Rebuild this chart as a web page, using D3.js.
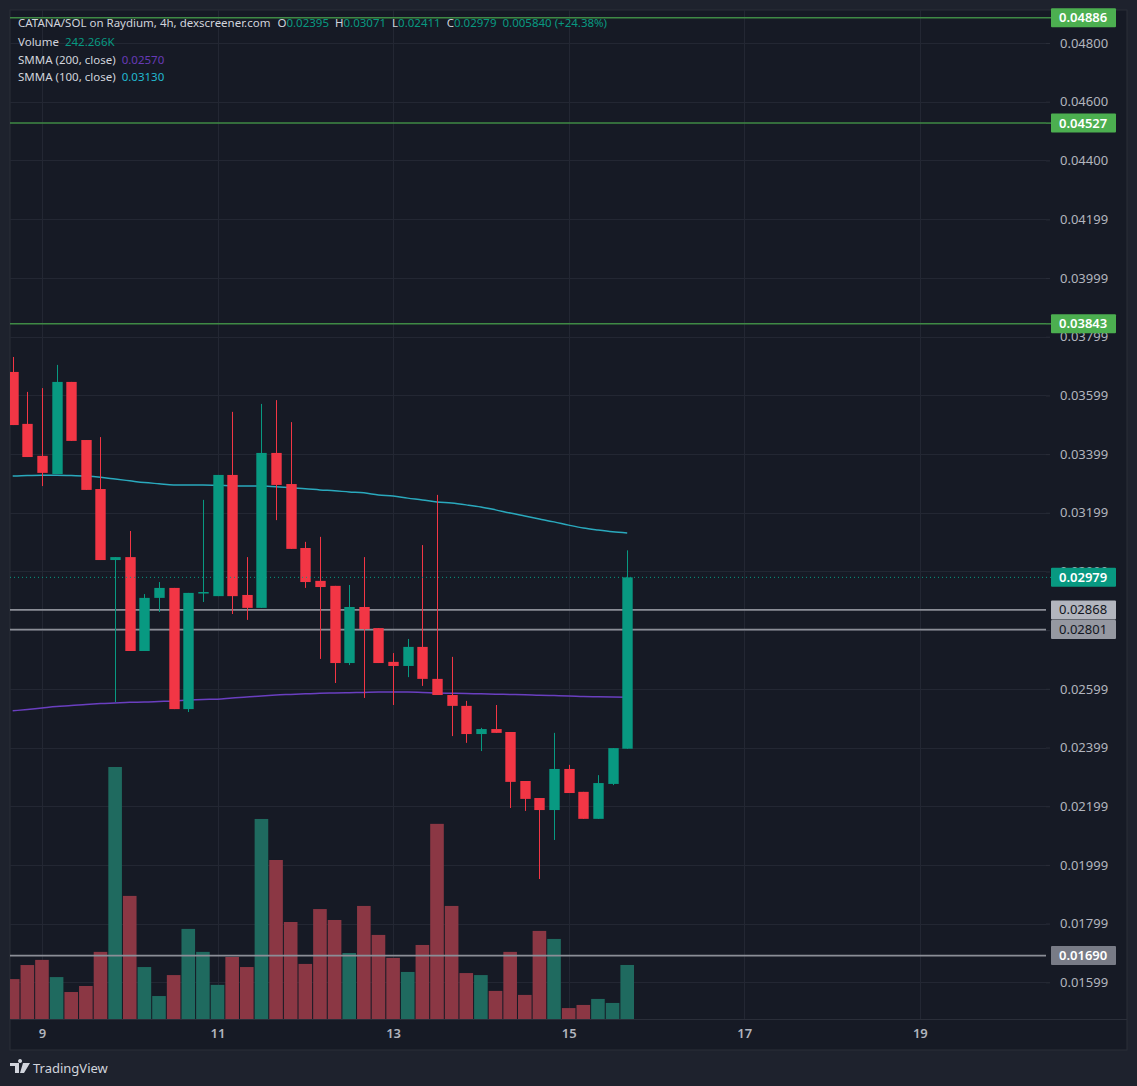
<!DOCTYPE html>
<html>
<head>
<meta charset="utf-8">
<script src="https://cdn.jsdelivr.net/npm/d3@7"></script>
<style>
html,body{margin:0;padding:0;background:#1e222d;}
svg{display:block;}
</style>
</head>
<body>
<svg id="chart" width="1137" height="1086"></svg>
<script>
// ---------- DATA ----------
const opens  = [0.03679,0.03502,0.03393,0.03331,0.03645,0.03447,0.03280,0.03038,0.03048,0.02728,0.02909,0.02943,0.02530,0.02926,0.02915,0.03328,0.02919,0.02875,0.03403,0.03297,0.03079,0.02967,0.02950,0.02687,0.02878,0.02806,0.02691,0.02677,0.02742,0.02633,0.02578,0.02541,0.02445,0.02462,0.02452,0.02285,0.02227,0.02186,0.02326,0.02248,0.02156,0.02275,0.02395];
const highs  = [0.03730,0.03611,0.03624,0.03703,0.03645,0.03447,0.03457,0.03048,0.03137,0.02922,0.02963,0.02943,0.02926,0.03243,0.03328,0.03543,0.03048,0.03570,0.03583,0.03508,0.03100,0.03117,0.02950,0.02953,0.03048,0.02806,0.02721,0.02769,0.03089,0.03260,0.02708,0.02558,0.02466,0.02544,0.02452,0.02285,0.02227,0.02449,0.02340,0.02248,0.02305,0.02397,0.03071];
const lows   = [0.03498,0.03389,0.03290,0.03331,0.03444,0.03277,0.03038,0.02554,0.02728,0.02728,0.02861,0.02530,0.02520,0.02895,0.02915,0.02854,0.02834,0.02875,0.03174,0.03076,0.02943,0.02701,0.02619,0.02680,0.02568,0.02687,0.02544,0.02639,0.02609,0.02578,0.02438,0.02415,0.02387,0.02449,0.02193,0.02183,0.01951,0.02084,0.02244,0.02156,0.02156,0.02271,0.02395];
const closes = [0.03498,0.03389,0.03335,0.03645,0.03444,0.03277,0.03038,0.03048,0.02728,0.02909,0.02943,0.02530,0.02926,0.02929,0.03328,0.02915,0.02875,0.03403,0.03294,0.03076,0.02963,0.02946,0.02687,0.02878,0.02803,0.02687,0.02677,0.02742,0.02633,0.02578,0.02541,0.02445,0.02462,0.02449,0.02282,0.02224,0.02186,0.02326,0.02244,0.02156,0.02278,0.02397,0.02979];
// volume in thousands
const volumes = [179,242,265,188,121,148,301,1130,552,233,103,197,404,301,153,278,233,897,713,435,247,493,444,296,507,377,274,211,332,875,507,206,197,126,301,108,395,359,49,63,90,72,242.266];
const smma100 = [0.03324,0.03326,0.03327,0.03327,0.03326,0.03324,0.03320,0.03314,0.03308,0.03302,0.03298,0.03294,0.03294,0.03294,0.03293,0.03291,0.03290,0.03290,0.03288,0.03284,0.03281,0.03277,0.03274,0.03270,0.03267,0.03260,0.03256,0.03249,0.03243,0.03236,0.03232,0.03226,0.03219,0.03209,0.03198,0.03188,0.03178,0.03168,0.03157,0.03147,0.03140,0.03134,0.03130];
const smma200 = [0.02524,0.02529,0.02534,0.02539,0.02542,0.02546,0.02549,0.02551,0.02553,0.02554,0.02556,0.02558,0.02561,0.02563,0.02564,0.02568,0.02571,0.02575,0.02578,0.02580,0.02582,0.02584,0.02585,0.02586,0.02587,0.02588,0.02588,0.02588,0.02587,0.02585,0.02584,0.02583,0.02582,0.02581,0.02580,0.02579,0.02577,0.02576,0.02575,0.02573,0.02572,0.02571,0.02570];
const greenLevels = [0.04886,0.04527,0.03843];
const greyLevels = [0.02868,0.02801,0.01690];
const lastPrice = 0.02979;
const priceTicks = [0.04800,0.04600,0.04400,0.04199,0.03999,0.03799,0.03599,0.03399,0.03199,0.02999,0.02799,0.02599,0.02399,0.02199,0.01999,0.01799,0.01599];
const dayLabels = ["9","11","13","15","17","19"];
const dayNumbers = [9,11,13,15,17,19];
const firstDayIndex = 2;   // candle index of day 9 00:00
const candlesPerDay = 6;   // 4h candles

// ---------- LAYOUT ----------
const W = 1137, H = 1086;
const pane = {x0: 10, y0: 10, x1: 1127, y1: 1050};
const plotRight = 1046;
const timeAxisTop = 1019;
const FONT = "'Noto Sans', 'Open Sans', sans-serif";

const svg = d3.select("#chart");
const x = d3.scaleLinear().domain([0, 42]).range([12.7, 627.2]);
const y = d3.scaleLinear().domain([0.016, 0.048]).range([982, 43]);
const yv = d3.scaleLinear().domain([0, 1130]).range([timeAxisTop, 767]);

const UP = "#089981", DOWN = "#f23645";
const UPV = "#1f6a5f", DOWNV = "#8b3744";

// pane background
svg.append("rect").attr("x",0).attr("y",0).attr("width",W).attr("height",H).attr("fill","#1e222d");
svg.append("rect").attr("x",pane.x0).attr("y",pane.y0).attr("width",pane.x1-pane.x0).attr("height",pane.y1-pane.y0)
  .attr("fill","#161a25").attr("stroke","#2a2e39").attr("stroke-width",1);

svg.append("defs").append("clipPath").attr("id","plotclip").append("rect")
  .attr("x",pane.x0).attr("y",pane.y0).attr("width",plotRight-pane.x0).attr("height",timeAxisTop-pane.y0);

// grid
const grid = svg.append("g").attr("clip-path","url(#plotclip)");
grid.selectAll("line.h").data(priceTicks).join("line")
  .attr("x1",pane.x0).attr("x2",plotRight).attr("y1",d=>Math.round(y(d))+0.5).attr("y2",d=>Math.round(y(d))+0.5)
  .attr("stroke","#232733").attr("stroke-width",1);
const dayIdx = dayNumbers.map(d => firstDayIndex + (d-9)*candlesPerDay);
grid.selectAll("line.v").data(dayIdx).join("line")
  .attr("y1",pane.y0).attr("y2",timeAxisTop).attr("x1",d=>Math.round(x(d))+0.5).attr("x2",d=>Math.round(x(d))+0.5)
  .attr("stroke","#232733").attr("stroke-width",1);

const plot = svg.append("g").attr("clip-path","url(#plotclip)");

// volume bars
const idx = d3.range(opens.length);
const vw = 13.6;
plot.selectAll("rect.vol").data(idx).join("rect")
  .attr("x", i => x(i)-vw/2).attr("width", vw)
  .attr("y", i => yv(volumes[i])).attr("height", i => timeAxisTop - yv(volumes[i]))
  .attr("fill", i => closes[i] >= opens[i] ? UPV : DOWNV);

// horizontal levels
plot.selectAll("line.gl").data(greenLevels).join("line")
  .attr("x1",pane.x0).attr("x2",1052).attr("y1",d=>y(d)).attr("y2",d=>y(d))
  .attr("stroke","#3f8a45").attr("stroke-width",1.5);
svg.selectAll("line.gl2").data(greenLevels).join("line")
  .attr("x1",plotRight).attr("x2",1052).attr("y1",d=>y(d)).attr("y2",d=>y(d))
  .attr("stroke","#3f8a45").attr("stroke-width",1.5);
plot.selectAll("line.grl").data(greyLevels).join("line")
  .attr("x1",pane.x0).attr("x2",plotRight).attr("y1",d=>y(d)).attr("y2",d=>y(d))
  .attr("stroke","#8b8e97").attr("stroke-width",1.8);

// SMMA lines
const lineGen = arr => d3.line().x(i=>x(i)).y(i=>y(arr[i])).curve(d3.curveMonotoneX)(idx);
plot.append("path").attr("d", lineGen(smma200)).attr("fill","none").attr("stroke","#6a3fc0").attr("stroke-width",1.5);
plot.append("path").attr("d", lineGen(smma100)).attr("fill","none").attr("stroke","#2aa9bd").attr("stroke-width",1.5);

// last price dotted
svg.append("line").attr("x1",pane.x0).attr("x2",1052).attr("y1",y(lastPrice)).attr("y2",y(lastPrice))
  .attr("stroke",UP).attr("stroke-width",1).attr("stroke-dasharray","1,3");

// candles
const bw = 10.4;
const candles = plot.selectAll("g.c").data(idx).join("g");
candles.append("line")
  .attr("x1", i => Math.round(x(i))+0.5).attr("x2", i => Math.round(x(i))+0.5)
  .attr("y1", i => y(highs[i])).attr("y2", i => y(lows[i]))
  .attr("stroke", i => closes[i] >= opens[i] ? UP : DOWN).attr("stroke-width",1);
candles.append("rect")
  .attr("x", i => Math.round(x(i))+0.5 - bw/2).attr("width", bw)
  .attr("y", i => y(Math.max(opens[i],closes[i])))
  .attr("height", i => Math.max(1.5, Math.abs(y(opens[i]) - y(closes[i]))))
  .attr("fill", i => closes[i] >= opens[i] ? UP : DOWN);

// time axis
svg.append("line").attr("x1",pane.x0).attr("x2",pane.x1).attr("y1",timeAxisTop+0.5).attr("y2",timeAxisTop+0.5)
  .attr("stroke","#2a2e39").attr("stroke-width",1);
const xAxis = d3.axisBottom(x).tickValues(dayIdx).tickFormat((d,k)=>dayLabels[k]).tickSize(0).tickPadding(10);
const gx = svg.append("g").attr("transform",`translate(0,${timeAxisTop})`).call(xAxis);
gx.select(".domain").remove();
gx.selectAll("text").attr("fill","#b2b5be").style("font-family",FONT).style("font-size","13px").style("font-weight","600");

// price axis
const yAxis = d3.axisRight(y).tickValues(priceTicks).tickFormat(d3.format(".5f")).tickSize(4).tickPadding(10);
const gy = svg.append("g").attr("transform",`translate(${plotRight},0)`).call(yAxis);
gy.select(".domain").remove();
gy.selectAll("line").attr("stroke","#2a2e39");
gy.selectAll("text").attr("fill","#b2b5be").style("font-family",FONT).style("font-size","13px");

// price labels
function priceLabel(v, bg, fg, weight){
  const g = svg.append("g").attr("transform",`translate(1051,${y(v)})`);
  g.append("rect").attr("x",0).attr("y",-9.5).attr("width",65).attr("height",19).attr("fill",bg).attr("rx",1);
  g.append("text").attr("x",8).attr("y",4.5).attr("fill",fg).style("font-family",FONT)
    .style("font-size","13px").style("font-weight",weight).text(d3.format(".5f")(v));
}
greenLevels.forEach(v => priceLabel(v, "#4caf50", "#ffffff", "600"));
priceLabel(lastPrice, UP, "#ffffff", "600");
priceLabel(greyLevels[0], "#b2b5be", "#131722", "400");
priceLabel(greyLevels[1], "#9598a1", "#131722", "400");
priceLabel(greyLevels[2], "#787b86", "#ffffff", "600");

// header legend
const hdr = svg.append("g").style("font-family",FONT).style("font-size","11.5px");
const last = opens.length-1;
const t1 = hdr.append("text").attr("x",18).attr("y",27).attr("fill","#d1d4dc");
t1.append("tspan").text("CATANA/SOL on Raydium, 4h, dexscreener.com");
const ohlc = [["O",opens[last]],["H",highs[last]],["L",0.02411],["C",closes[last]]];
ohlc.forEach((p,k)=>{
  t1.append("tspan").attr("dx", k===0 ? 7 : 6).attr("fill","#d1d4dc").text(p[0]);
  t1.append("tspan").attr("fill",UP).text(d3.format(".5f")(p[1]));
});
t1.append("tspan").attr("dx",6).attr("fill",UP).text("0.005840 (+24.38%)");
const t2 = hdr.append("text").attr("x",18).attr("y",46).attr("fill","#d1d4dc");
t2.append("tspan").text("Volume");
t2.append("tspan").attr("dx",6).attr("fill",UP).text("242.266K");
const t3 = hdr.append("text").attr("x",18).attr("y",64).attr("fill","#d1d4dc");
t3.append("tspan").text("SMMA (200, close)");
t3.append("tspan").attr("dx",6).attr("fill","#673ab7").text(d3.format(".5f")(smma200[last]));
const t4 = hdr.append("text").attr("x",18).attr("y",81).attr("fill","#d1d4dc");
t4.append("tspan").text("SMMA (100, close)");
t4.append("tspan").attr("dx",6).attr("fill","#22b8cf").text(d3.format(".5f")(smma100[last]));

// TradingView footer
const foot = svg.append("g").attr("transform","translate(10,1061)");
foot.append("path").attr("d","M0,2 H9 V12 H5 V5 H0 Z M10,2 a2,2 0 1 1 0.1,0 Z M13,2 H20 L14,12 H10 Z").attr("fill","#d1d4dc");
foot.append("text").attr("x",23).attr("y",12).attr("fill","#d1d4dc").style("font-family",FONT).style("font-size","13px").text("TradingView");
</script>
</body>
</html>
